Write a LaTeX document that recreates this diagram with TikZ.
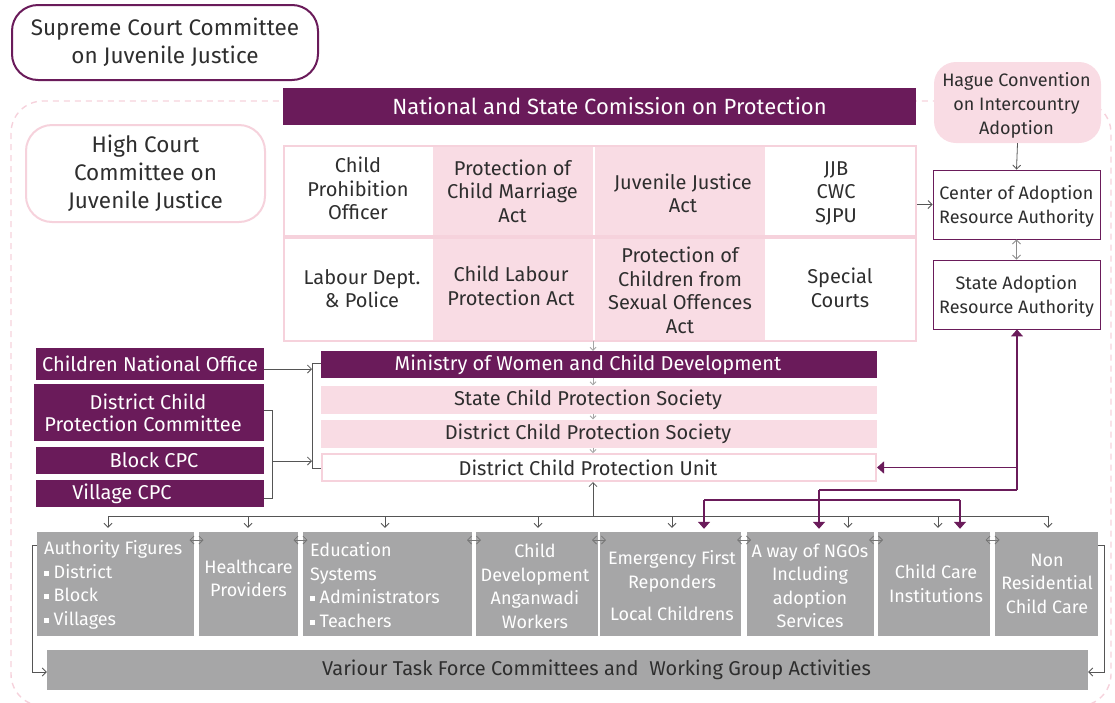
\documentclass[tikz,border=0pt]{standalone}
\usepackage{fontspec}
\setmainfont{Fira Sans}
\usetikzlibrary{arrows.meta}
\definecolor{plum}{HTML}{6A1B5A}
\definecolor{blush}{HTML}{F9DCE4}
\definecolor{blushline}{HTML}{F6D2DC}
\definecolor{slate}{HTML}{A6A6A7}
\definecolor{ink}{HTML}{2E2E2E}
\definecolor{wire}{HTML}{555555}
\newcommand\sqbullet{\raisebox{2.6pt}{\rule{5pt}{5pt}}\hspace{4.5pt}}
\newcommand\nudge[1]{\hspace*{#1pt}}
\begin{document}
\begin{tikzpicture}[x=1pt,y=-1pt,
  txt/.style={inner sep=0pt,align=center,text=ink},
  bigfont/.style={font=\fontsize{22.5}{28}\selectfont},
  gridfont/.style={font=\fontsize{20}{23.5}\selectfont},
  sidefont/.style={font=\fontsize{18}{24}\selectfont},
  stackfont/.style={font=\fontsize{20}{23}\selectfont},
  lowfont/.style={font=\fontsize{18}{23.5}\selectfont},
  plumbox/.style={fill=plum,text=white,inner sep=0pt,align=center},
  pinkbox/.style={fill=blush,text=ink,inner sep=0pt,align=center},
  greybox/.style={fill=slate,inner sep=0pt},
  onlow/.style={txt,lowfont,text=white},
  thin/.style={draw=wire,line width=0.8pt,-{Straight Barb[length=4pt,width=8pt]}},
  faint/.style={draw=black!35,line width=0.8pt,-{Straight Barb[length=3pt,width=6pt]}},
  twoway/.style={draw=wire!80,line width=0.8pt,{Straight Barb[length=4pt,width=8pt]}-{Straight Barb[length=4pt,width=8pt]}},
  plumline/.style={draw=plum,line width=1.3pt},
  plumtip/.style={plumline,-{Triangle[length=7pt,width=12pt]}}
]
\useasboundingbox (0,0) rectangle (1115,702);

% dashed outer frame
\draw[blushline,line width=1.4pt,dash pattern=on 6pt off 5pt,rounded corners=32pt]
  (11,101) rectangle (1111,706);

% top level committees
\node[draw=plum,line width=2pt,rounded corners=26pt,fill=white,minimum width=306,minimum height=75,txt,bigfont]
  (supreme) at (165,42.5) {Supreme Court Committee\\on Juvenile Justice};
\node[plumbox,minimum width=633,minimum height=37,font=\fontsize{22}{24}\selectfont]
  (national) at (599.5,106.5) {\nudge{20}National and State Comission on Protection};
\node[draw=blushline,line width=2pt,rounded corners=26pt,fill=white,minimum width=239,minimum height=97,txt,bigfont]
  (high) at (145.5,173.5) {High Court\\Committee on\\Juvenile Justice};

% legislation grid
\node[draw=blushline,line width=2.5pt,minimum width=632,minimum height=90,inner sep=0pt] (rowA) at (600,191) {};
\node[draw=blushline,line width=2.5pt,minimum width=632,minimum height=103,inner sep=0pt] (rowB) at (600,289.5) {};
\node[pinkbox,minimum width=160,minimum height=88] (a2) at (512.5,191) {};
\node[pinkbox,minimum width=170,minimum height=88] (a3) at (680,191) {};
\node[pinkbox,minimum width=160,minimum height=101] (b2) at (512.5,289.5) {};
\node[pinkbox,minimum width=170,minimum height=101] (b3) at (680,289.5) {};
\node[txt,gridfont] (a1t) at (358,188.5) {Child\\Prohibition\\Officer};
\node[txt,gridfont] (a2t) at (512.5,191) {Protection of\\Child Marriage\\Act};
\node[txt,gridfont] (a3t) at (683,193.5) {Juvenile Justice\\Act};
\node[txt,gridfont] (a4t) at (836,193) {JJB\\CWC\\SJPU};
\node[txt,gridfont] (b1t) at (362,288.5) {Labour Dept.\\\& Police};
\node[txt,gridfont] (b2t) at (511,286) {Child Labour\\Protection Act};
\node[txt,gridfont] (b3t) at (680,290.5) {Protection of\\Children from\\Sexual Offences\\Act};
\node[txt,gridfont] (b4t) at (840,288) {Special\\Courts};

% adoption chain
\node[fill=blush,rounded corners=22pt,minimum width=167,minimum height=81,inner sep=0pt]
  (hague) at (1017.5,102.5) {};
\node[txt,sidefont] (haguet) at (1016.5,105.5) {Hague Convention\\on Intercountry\\Adoption};
\node[draw=plum,line width=0.9pt,fill=white,minimum width=167,minimum height=69,inner sep=0pt]
  (cara) at (1016.5,204.5) {};
\node[txt,sidefont] (carat) at (1016.5,206.5) {Center of Adoption\\Resource Authority};
\node[draw=plum,line width=0.9pt,fill=white,minimum width=167,minimum height=69,inner sep=0pt]
  (sara) at (1016.5,294.5) {};
\node[txt,sidefont] (sarat) at (1016.5,296.5) {State Adoption\\Resource Authority};

% protection stack
\node[plumbox,minimum width=556,minimum height=27,stackfont] (ministry) at (599,364.5) {\nudge{-22}Ministry of Women and Child Development};
\node[pinkbox,minimum width=556,minimum height=28,stackfont] (scps) at (599,399.5) {\nudge{-22}State Child Protection Society};
\node[pinkbox,minimum width=556,minimum height=28,stackfont] (dcps) at (599,433.5) {\nudge{-22}District Child Protection Society};
\node[draw=blushline,line width=2pt,fill=white,minimum width=554,minimum height=27,txt,stackfont] (dcpu) at (599,467.5) {\nudge{-22}District Child Protection Unit};

% local committees
\node[plumbox,minimum width=228,minimum height=32,stackfont] (cno) at (150,364) {Children National Office};
\node[plumbox,minimum width=230,minimum height=57] (dcpc) at (149,412.5) {};
\node[txt,stackfont,text=white] (dcpct) at (143,412.5) {\nudge{10}District Child\\[-1pt]Protection Committee};
\node[plumbox,minimum width=228,minimum height=27,stackfont] (block) at (150,460.5) {\nudge{8}Block CPC};
\node[plumbox,minimum width=228,minimum height=27,stackfont] (village) at (150,493.5) {\nudge{-56}Village CPC};

% service providers
\node[greybox,minimum width=157,minimum height=104] (auth) at (115.5,584) {};
\node[greybox,minimum width=99,minimum height=104] (health) at (248.5,584) {};
\node[greybox,minimum width=169,minimum height=104] (edu) at (387.5,584) {};
\node[greybox,minimum width=122,minimum height=104] (cdev) at (537,584) {};
\node[greybox,minimum width=141,minimum height=104] (emer) at (670.5,584) {};
\node[greybox,minimum width=127,minimum height=104] (ngo) at (810.5,584) {};
\node[greybox,minimum width=112,minimum height=104] (cci) at (934,584) {};
\node[greybox,minimum width=103,minimum height=104] (nonres) at (1046.5,584) {};
\node[greybox,minimum width=1041,minimum height=40,txt,font=\fontsize{20}{22}\selectfont] (task) at (567.5,669.5)
  {\nudge{58}Variour Task Force Committees and\ \ Working Group Activities};

\node[onlow,anchor=west,align=left] at (44,585) {Authority Figures\\\sqbullet District\\\sqbullet Block\\\sqbullet Villages};
\node[onlow] at (248.5,578.5) {Healthcare\\Providers};
\node[onlow,anchor=west,align=left] at (310,585) {Education\\Systems\\\sqbullet Administrators\\\sqbullet Teachers};
\node[onlow] at (535,586) {Child\\Development\\Anganwadi\\Workers};
\node[onlow] at (672,586) {Emergency First\\Reponders\\[9pt]Local Childrens};
\node[onlow] at (810,586) {A way of NGOs\\Including\\adoption\\Services};
\node[onlow] at (936,583.5) {Child Care\\Institutions};
\node[onlow] at (1047,583.5) {Non\\Residential\\Child Care};

% links between neighbouring providers
\foreach \gx in {196.5,300.5,474,599,744,876,992.5}
  \draw[twoway] (\gx-7,540) -- (\gx+7,540);

% adoption connectors
\draw[thin] (hague.south) -- (cara.north);
\draw[thin] (rowA.east |- cara.west) -- (cara.west);
\draw[twoway,draw=black!45] (cara.south) -- (sara.north);

% flow down the protection stack
\draw[faint] (593,341) -- (593,0 |- ministry.north);
\draw[faint] (593,0 |- ministry.south) -- (593,0 |- scps.north);
\draw[faint] (593,0 |- scps.south) -- (593,0 |- dcps.north);
\draw[faint] (593,0 |- dcps.south) -- (593,0 |- dcpu.north);

% local committees feeding the stack
\coordinate (jt) at (312,363);
\coordinate (jb) at (312,468);
\draw[wire,line width=0.9pt] (ministry.west |- jt) -- (jt) -- (jb) -- (dcpu.west |- jb);
\draw[thin] (cno.east |- 0,369) -- (312,369);
\draw[wire,line width=0.9pt] (dcpc.east |- 0,410) -- (272,410) -- (272,498) -- (village.east |- 0,498);
\draw[thin] (272,461) -- (312,461);

% distribution bus
\coordinate (hub) at (593,516);
\draw[wire,line width=0.9pt] (108,516) -- (1048,516);
\draw[thin] (hub) -- (hub |- dcpu.south);
\foreach \bx/\tgt in {108/auth,248/health,385/edu,538/cdev,672/emer,848/ngo,938/cci,1048/nonres}
  \draw[thin,shorten >=4pt] (\bx,516) -- (\bx,0 |- \tgt.north);

% adoption authority links
\coordinate (sv) at (1017,490);
\draw[plumtip] (sv) -- (sv |- sara.south);
\draw[plumtip] (sv |- dcpu.east) -- (dcpu.east);
\draw[plumline] (sv) -- (819,490);
\draw[plumtip,shorten >=3pt] (819,490) -- (819,0 |- ngo.north);
\draw[plumline] (704,500) -- (960,500);
\draw[plumtip,shorten >=3pt] (704,500) -- (704,0 |- emer.north);
\draw[plumtip,shorten >=3pt] (960,500) -- (960,0 |- cci.north);

% working group links
\draw[thin] (auth.north west |- 0,545) -- (32,545) -- (32,672) -- (task.west |- 0,672);
\draw[thin] (nonres.north east |- 0,545) -- (1104,545) -- (1104,672) -- (task.east |- 0,672);
\end{tikzpicture}
\end{document}
